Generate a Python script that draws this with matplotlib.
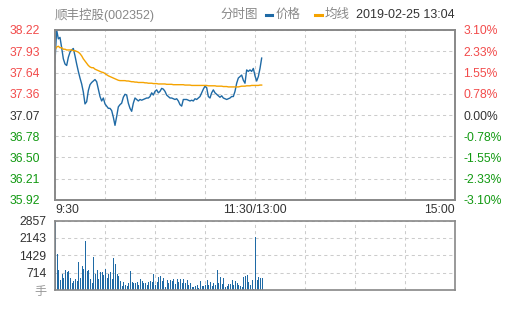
import numpy as np
import matplotlib
matplotlib.use('Agg')
import matplotlib.pyplot as plt
from matplotlib.lines import Line2D

plt.rcParams['font.family'] = ['Liberation Sans', 'Noto Sans CJK SC', 'DejaVu Sans']

# minute-by-minute price from 9:30 (index 0) to 13:04
price = [37.80, 38.22, 38.10, 38.12, 37.98, 37.83, 37.76, 37.74, 37.85, 37.92,
         37.95, 37.97, 37.87, 37.76, 37.66, 37.57, 37.49, 37.38, 37.22, 37.25,
         37.40, 37.48, 37.51, 37.53, 37.55, 37.52, 37.42, 37.32, 37.26, 37.30,
         37.22, 37.19, 37.16, 37.16, 37.13, 37.04, 36.93, 37.05, 37.18, 37.21,
         37.23, 37.31, 37.35, 37.34, 37.23, 37.16, 37.12, 37.23, 37.30, 37.28,
         37.26, 37.28, 37.27, 37.28, 37.29, 37.30, 37.30, 37.32, 37.37, 37.34,
         37.39, 37.41, 37.37, 37.39, 37.43, 37.42, 37.39, 37.34, 37.32, 37.30,
         37.30, 37.29, 37.28, 37.29, 37.26, 37.21, 37.19, 37.28, 37.28, 37.28,
         37.27, 37.26, 37.27, 37.26, 37.29, 37.28, 37.30, 37.32, 37.37, 37.42,
         37.46, 37.44, 37.32, 37.30, 37.37, 37.41, 37.37, 37.35, 37.33, 37.31,
         37.33, 37.30, 37.29, 37.28, 37.29, 37.30, 37.32, 37.32, 37.39, 37.50,
         37.57, 37.59, 37.61, 37.54, 37.50, 37.68, 37.66, 37.68, 37.66, 37.70,
         37.60, 37.53, 37.59, 37.70, 37.84]

# average price line
avg = [37.95, 37.99, 38.00, 37.98, 37.98, 37.96, 37.96, 37.95, 37.95, 37.95,
       37.95, 37.94, 37.94, 37.93, 37.92, 37.90, 37.87, 37.83, 37.80, 37.77,
       37.74, 37.72, 37.71, 37.71, 37.69, 37.68, 37.67, 37.66, 37.65, 37.645,
       37.63, 37.615, 37.60, 37.59, 37.58, 37.57, 37.56, 37.55, 37.54, 37.535,
       37.535, 37.535, 37.535, 37.53, 37.53, 37.525, 37.52, 37.52, 37.515, 37.515,
       37.51, 37.51, 37.51, 37.51, 37.505, 37.505, 37.50, 37.50, 37.50, 37.495,
       37.495, 37.495, 37.49, 37.49, 37.49, 37.49, 37.49, 37.485, 37.485, 37.485,
       37.485, 37.48, 37.48, 37.48, 37.48, 37.48, 37.48, 37.48, 37.475, 37.475,
       37.475, 37.475, 37.47, 37.47, 37.47, 37.47, 37.47, 37.47, 37.47, 37.47,
       37.47, 37.47, 37.465, 37.465, 37.465, 37.465, 37.465, 37.46, 37.46, 37.46,
       37.46, 37.455, 37.455, 37.455, 37.45, 37.45, 37.45, 37.45, 37.45, 37.45,
       37.45, 37.455, 37.46, 37.46, 37.46, 37.465, 37.465, 37.465, 37.47, 37.47,
       37.47, 37.47, 37.47, 37.475, 37.475]

# volume per minute (手)
volume = [2857, 1484, 824, 412, 646, 481, 824, 756, 783, 508,
          275, 385, 453, 385, 1140, 508, 989, 866, 2034, 783,
          824, 453, 302, 1347, 646, 824, 453, 728, 728, 618,
          866, 508, 646, 728, 440, 1305, 1058, 646, 591, 385,
          179, 343, 206, 179, 302, 783, 344, 302, 275, 344,
          206, 453, 371, 275, 302, 206, 344, 371, 316, 646,
          206, 344, 522, 577, 371, 508, 137, 412, 302, 412,
          371, 453, 234, 453, 344, 453, 275, 453, 275, 412,
          206, 275, 110, 137, 165, 206, 69, 371, 165, 179,
          206, 412, 206, 344, 179, 275, 206, 824, 275, 550,
          234, 508, 137, 179, 234, 234, 412, 206, 385, 275,
          206, 165, 137, 550, 591, 618, 344, 206, 412, 41,
          2198, 412, 550, 508, 508]

price_labels = ['35.92', '36.21', '36.50', '36.78', '37.07', '37.36', '37.64', '37.93', '38.22']
pct_labels = ['-3.10%', '-2.33%', '-1.55%', '-0.78%', '0.00%', '0.78%', '1.55%', '2.33%', '3.10%']
vol_labels = ['手', '714', '1429', '2143', '2857']
time_labels = ['9:30', '', '', '', '11:30/13:00', '', '', '', '15:00']

BLUE = '#1f6aa5'
ORANGE = '#f5a300'
RED = '#f24b4b'
GREEN = '#119911'
DARK = '#333333'
GRAY = '#888888'

fig = plt.figure(figsize=(5.05, 3.10), dpi=100)
W, H = 505, 310
ax = fig.add_axes([55 / W, 110 / H, 400 / W, 170 / H])
axv = fig.add_axes([55 / W, 20 / H, 400 / W, 69.5 / H])

grid_kw = dict(color='#cccccc', linestyle=(0, (3, 3)), linewidth=0.75)

# price panel
ax.plot(np.arange(len(price)), price, color=BLUE, lw=1.0)
ax.plot(np.arange(len(avg)), avg, color=ORANGE, lw=1.0)
ax.set_xlim(0, 240)
ymin, ymax = float(price_labels[0]), float(price_labels[-1])
ax.set_ylim(ymin, ymax)
yt = np.linspace(ymin, ymax, 9)
ax.set_yticks(yt)
ax.set_yticklabels(price_labels)
ax.set_xticks(np.arange(0, 241, 30))
ax.set_xticklabels(time_labels)
ax.grid(True, **grid_kw)
ax.tick_params(axis='both', length=0, labelsize=8.7, colors=DARK)
ax.tick_params(axis='y', pad=11)
ax.tick_params(axis='x', pad=3)
xl = ax.get_xticklabels()
xl[0].set_ha('left')
xl[-1].set_ha('right')
for i, lab in enumerate(ax.get_yticklabels()):
    lab.set_color(GREEN if i < 4 else (DARK if i == 4 else RED))

axr = ax.twinx()
axr.set_ylim(ymin, ymax)
axr.set_yticks(yt)
axr.set_yticklabels(pct_labels)
axr.tick_params(axis='y', length=0, labelsize=8.7, pad=6)
for i, lab in enumerate(axr.get_yticklabels()):
    lab.set_color(GREEN if i < 4 else (DARK if i == 4 else RED))

for a in (ax, axr, axv):
    for s in a.spines.values():
        s.set_color(GRAY)
        s.set_linewidth(1.2)

# volume panel
axv.bar(np.arange(len(volume)), volume, width=0.65, align='edge', color=BLUE,
        linewidth=0, antialiased=False)
axv.set_xlim(0, 240)
vmax = int(vol_labels[-1])
axv.set_ylim(0, vmax)
axv.set_yticks(np.linspace(0, vmax, 5))
axv.set_yticklabels(vol_labels)
axv.set_xticks(np.arange(0, 241, 30))
axv.set_xticklabels([])
axv.grid(True, **grid_kw)
axv.set_axisbelow(True)
axv.tick_params(axis='both', length=0, labelsize=8.7, colors=DARK)
axv.tick_params(axis='y', pad=6)
axv.get_yticklabels()[0].set_color('#999999')

# header
def fx(px):
    return px / W

ty = 1 - 15 / H
fig.text(fx(55), ty, '顺丰控股(002352)', color=GRAY, fontsize=9, va='center', ha='left')
fig.text(fx(220), ty, '分时图', color=GRAY, fontsize=9, va='center', ha='left')
fig.add_artist(Line2D([fx(265.5), fx(272)], [ty, ty], color=BLUE, lw=2.2, transform=fig.transFigure))
fig.text(fx(276), ty, '价格', color=GRAY, fontsize=9, va='center', ha='left')
fig.add_artist(Line2D([fx(315), fx(322)], [ty, ty], color=ORANGE, lw=2.2, transform=fig.transFigure))
fig.text(fx(325), ty, '均线', color=GRAY, fontsize=9, va='center', ha='left')
fig.text(fx(455), ty, '2019-02-25 13:04', color=DARK, fontsize=9, va='center', ha='right')

fig.savefig('out.png', dpi=100)
